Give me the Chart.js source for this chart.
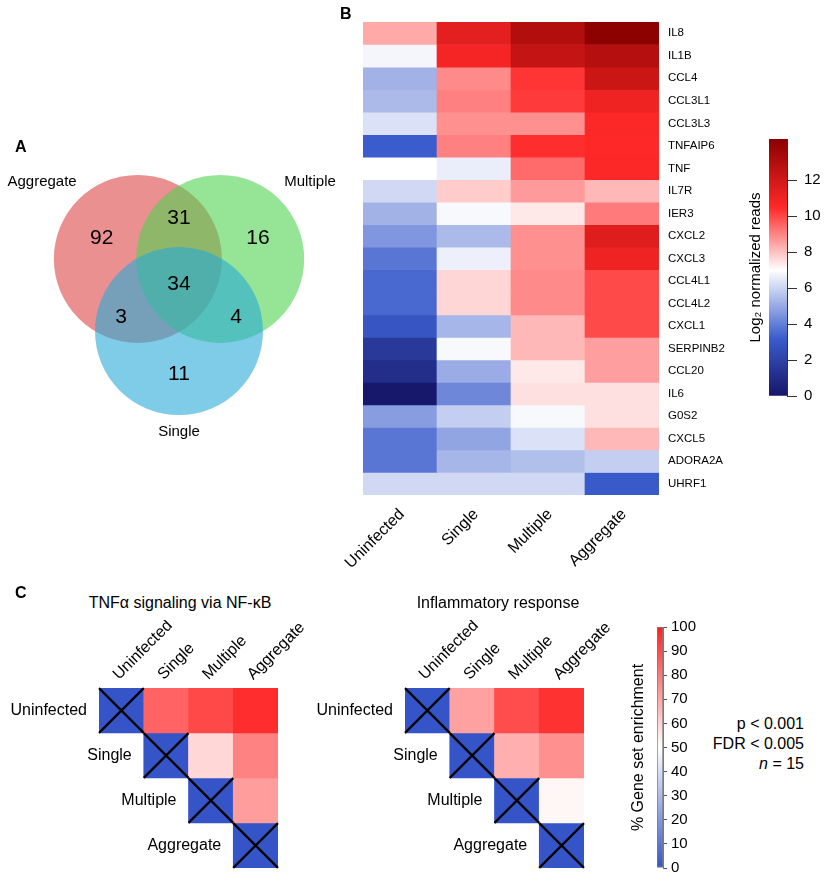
<!DOCTYPE html>
<html>
<head>
<meta charset="utf-8">
<title>Gene expression panels</title>
<style>
*{margin:0;padding:0;box-sizing:border-box}
body{width:829px;height:881px;background:#fff;position:relative;overflow:hidden;font-family:"Liberation Sans",Arial,sans-serif;color:#000}
canvas{position:absolute}
.t{position:absolute;white-space:nowrap;font-size:16px;line-height:20px}
.panel{font-weight:bold;font-size:16px}
</style>
</head>
<body>
<canvas id="venn" width="360" height="360" style="left:0;top:120px"></canvas>
<canvas id="heat" width="440" height="580" style="left:300px;top:0"></canvas>
<canvas id="heatBar" width="89" height="300" style="left:740px;top:120px"></canvas>
<canvas id="triTnf" width="330" height="260" style="left:0;top:620px"></canvas>
<canvas id="triInf" width="340" height="260" style="left:300px;top:620px"></canvas>
<canvas id="triBar" width="90" height="271" style="left:620px;top:610px"></canvas>

<div class="t panel" style="left:15px;top:137px">A</div>
<div class="t panel" style="left:340px;top:4px">B</div>
<div class="t panel" style="left:15px;top:583px">C</div>
<div class="t" style="left:180px;top:593px;transform:translateX(-50%)">TNFα signaling via NF-κB</div>
<div class="t" style="left:498px;top:593px;transform:translateX(-50%)">Inflammatory response</div>
<div class="t" style="right:25px;top:714px;text-align:right">p &lt; 0.001<br>FDR &lt; 0.005<br><i>n</i> = 15</div>

<script src="https://cdn.jsdelivr.net/npm/chart.js"></script>
<script>
// ---- data ----
const groups = ['Uninfected', 'Single', 'Multiple', 'Aggregate'];

// A: venn
const vennSets = ['Aggregate', 'Multiple', 'Single'];
const vennSetX = [-0.49, 0.49, 0];
const vennSetY = [0.43, 0.43, -0.43];
const vennCounts = [92, 31, 16, 34, 3, 4, 11];
const vennCountX = [-0.92, 0, 0.94, 0, -0.69, 0.68, 0];
const vennCountY = [0.68, 0.92, 0.68, 0.13, -0.27, -0.27, -0.94];
const vennLabelX = [-1.63, 1.56, 0];
const vennLabelY = [1.345, 1.345, -1.63];

// B: log2 normalized reads
const genes = ['IL8', 'IL1B', 'CCL4', 'CCL3L1', 'CCL3L3', 'TNFAIP6', 'TNF', 'IL7R', 'IER3', 'CXCL2', 'CXCL3',
  'CCL4L1', 'CCL4L2', 'CXCL1', 'SERPINB2', 'CCL20', 'IL6', 'G0S2', 'CXCL5', 'ADORA2A', 'UHRF1'];
const readsUninfected = [8.4, 6.8, 5.2, 5.4, 6.3, 3.2, 7.0, 6.1, 5.2, 4.55, 3.8, 3.5, 3.5, 2.9, 1.6, 1.1, 0.1, 4.7, 3.8, 3.8, 6.1];
const readsSingle = [11.4, 10.8, 8.9, 9.07, 8.8, 9.07, 6.6, 7.83, 6.85, 5.4, 6.65, 7.67, 7.67, 5.3, 6.85, 5.05, 4.2, 5.86, 4.9, 5.3, 6.1];
const readsMultiple = [13.0, 12.4, 10.3, 10.2, 8.8, 10.4, 9.43, 8.64, 7.37, 8.8, 8.8, 8.9, 8.9, 8.16, 8.16, 7.37, 7.5, 6.85, 6.3, 5.5, 6.1];
const readsAggregate = [14.2, 12.9, 12.2, 11.0, 10.6, 10.5, 10.6, 8.16, 9.17, 11.5, 11.0, 9.95, 9.95, 9.95, 8.58, 8.58, 7.5, 7.5, 8.16, 5.86, 3.1];
const readsMax = 14.3;
const readTicks = [0, 2, 4, 6, 8, 10, 12];

// C: % gene set enrichment (row vs column, upper triangle)
const tnfUninfected = [0, 85, 91, 97];
const tnfSingle = [null, 0, 59, 78];
const tnfMultiple = [null, null, 0, 72];
const tnfAggregate = [null, null, null, 0];
const infUninfected = [0, 71, 90, 96];
const infSingle = [null, 0, 68, 75];
const infMultiple = [null, null, 0, 52];
const infAggregate = [null, null, null, 0];

// ---- colour maps ----
const readStops = [[0, [22, 22, 104]], [3.2, [58, 92, 204]], [7, [255, 255, 255]], [10.5, [255, 40, 40]], [14.3, [139, 0, 0]]];
const pctStops = [[0, [52, 84, 200]], [50, [255, 255, 255]], [100, [255, 32, 32]]];

function cmap(stops, v) {
  for (let k = 1; k < stops.length; k++) {
    if (v <= stops[k][0] || k == stops.length - 1) {
      const [v0, c0] = stops[k - 1];
      const [v1, c1] = stops[k];
      const t = Math.max(0, Math.min(1, (v - v0) / (v1 - v0)));
      const c = c0.map((a, n) => Math.round(a + (c1[n] - a) * t));
      return `rgb(${c.join(',')})`;
    }
  }
}

function gradientFill(stops, lo, hi) {
  return (c) => {
    const chart = c.chart;
    if (!chart.chartArea) return 'rgba(0,0,0,0)';
    const y = chart.scales.y;
    const g = chart.ctx.createLinearGradient(0, y.getPixelForValue(lo), 0, y.getPixelForValue(hi));
    stops.forEach(([v, rgb]) => g.addColorStop((v - lo) / (hi - lo), `rgb(${rgb.join(',')})`));
    return g;
  };
}

const FONT = '"Liberation Sans", Arial, sans-serif';
Chart.defaults.font.family = FONT;
Chart.defaults.color = '#000';
Chart.defaults.animation = false;
Chart.defaults.events = [];
Chart.defaults.plugins.legend.display = false;
Chart.defaults.plugins.tooltip.enabled = false;

// ---- A: venn ----
const vennColors = ['rgba(220,70,70,0.6)', 'rgba(80,210,80,0.6)', 'rgba(40,170,215,0.6)'];
const unitPx = (c) => c.chart.scales.x.getPixelForValue(1) - c.chart.scales.x.getPixelForValue(0);

const vennText = {
  id: 'vennText',
  afterDatasetsDraw(chart) {
    const { ctx, scales: { x, y } } = chart;
    ctx.save();
    ctx.fillStyle = '#000';
    ctx.textAlign = 'center';
    ctx.textBaseline = 'middle';
    ctx.font = `21px ${FONT}`;
    vennCounts.forEach((n, k) => ctx.fillText(n, x.getPixelForValue(vennCountX[k]), y.getPixelForValue(vennCountY[k])));
    ctx.font = `15px ${FONT}`;
    vennSets.forEach((s, k) => ctx.fillText(s, x.getPixelForValue(vennLabelX[k]), y.getPixelForValue(vennLabelY[k])));
    ctx.restore();
  },
};

new Chart(document.getElementById('venn'), {
  type: 'scatter',
  // blue first so it is drawn last (on top)
  data: {
    datasets: [2, 1, 0].map(k => ({
      data: [{ x: vennSetX[k], y: vennSetY[k] }],
      backgroundColor: vennColors[k],
      borderWidth: 0,
      pointRadius: unitPx,
    })),
  },
  options: {
    responsive: false,
    layout: { padding: 0 },
    scales: {
      x: { display: false, min: -179 / 84, max: 181 / 84 },
      y: { display: false, min: -185 / 84, max: 175 / 84 },
    },
  },
  plugins: [vennText],
});

// ---- B: heatmap ----
const readCols = [readsUninfected, readsSingle, readsMultiple, readsAggregate];

new Chart(document.getElementById('heat'), {
  type: 'bar',
  data: {
    labels: groups,
    datasets: genes.map((g, i) => ({
      label: g,
      data: groups.map(() => [i, i + 1]),
      backgroundColor: readCols.map(col => cmap(readStops, col[i])),
      borderWidth: 0,
      grouped: false,
      barPercentage: 1,
      categoryPercentage: 1,
    })),
  },
  options: {
    responsive: false,
    layout: { padding: { left: 63, top: 22, right: 0, bottom: 0 } },
    scales: {
      x: {
        position: 'bottom',
        grid: { display: false, drawTicks: false },
        border: { display: false },
        ticks: { minRotation: 45, maxRotation: 45, autoSkip: false, padding: 10, labelOffset: 2, font: { size: 16 } },
        afterFit: (s) => { s.height = 85; },
      },
      y: {
        position: 'right',
        min: 0,
        max: genes.length,
        reverse: true,
        afterBuildTicks: (s) => { s.ticks = genes.map((g, i) => ({ value: i + 0.5 })); },
        grid: { display: false, drawTicks: false },
        border: { display: false },
        ticks: { autoSkip: false, padding: 9, font: { size: 11.5 }, callback: (v, i) => genes[i] },
        afterFit: (s) => { s.width = 81; },
      },
    },
  },
});

// ---- B: colour bar ----
new Chart(document.getElementById('heatBar'), {
  type: 'bar',
  data: {
    labels: ['reads'],
    datasets: [{
      data: [[0, readsMax]],
      backgroundColor: gradientFill(readStops, 0, readsMax),
      borderWidth: 0,
      barPercentage: 1,
      categoryPercentage: 1,
    }],
  },
  options: {
    responsive: false,
    layout: { padding: { top: 19, bottom: 24, left: 0, right: 0 } },
    scales: {
      x: { display: false },
      y: {
        position: 'right',
        min: 0,
        max: readsMax,
        afterBuildTicks: (s) => { s.ticks = readTicks.map(v => ({ value: v })); },
        grid: { drawOnChartArea: false, drawTicks: true, tickLength: 10, color: '#333' },
        border: { display: true, color: '#333' },
        ticks: { padding: 7, font: { size: 15 } },
        afterFit: (s) => { s.width = 42; },
      },
      yTitle: {
        type: 'linear',
        position: 'left',
        grid: { display: false, drawTicks: false },
        border: { display: false },
        ticks: { display: false },
        title: { display: true, text: 'Log₂ normalized reads', font: { size: 15 }, padding: { top: 7, bottom: 0 } },
        afterFit: (s) => { s.width = 29; },
      },
    },
  },
});

// ---- C: triangular heatmaps ----
const rowLabels = {
  id: 'rowLabels',
  afterDraw(chart) {
    const { ctx, scales: { x, y } } = chart;
    const half = (x.getPixelForValue(1) - x.getPixelForValue(0)) / 2;
    ctx.save();
    ctx.font = `16px ${FONT}`;
    ctx.fillStyle = '#000';
    ctx.textAlign = 'right';
    ctx.textBaseline = 'middle';
    groups.forEach((g, i) => ctx.fillText(g, x.getPixelForValue(i) - half - 12, y.getPixelForValue(i + 0.5)));
    ctx.restore();
  },
};

function triangle(id, rows, padLeft, padRight) {
  const cellHalfDiag = (c) => {
    const x = c.chart.scales.x;
    return (x.getPixelForValue(1) - x.getPixelForValue(0)) / 2 * Math.SQRT2;
  };
  new Chart(document.getElementById(id), {
    type: 'bar',
    data: {
      labels: groups,
      datasets: [{
        type: 'line',
        order: 0,
        data: groups.map((g, i) => ({ x: g, y: i + 0.5 })),
        showLine: false,
        pointStyle: 'crossRot',
        pointRadius: cellHalfDiag,
        pointBorderColor: '#000',
        pointBorderWidth: 2.2,
        pointBackgroundColor: 'rgba(0,0,0,0)',
        clip: false,
      }].concat(rows.map((row, i) => ({
        order: 1,
        data: row.map(v => (v === null ? null : [i, i + 1])),
        backgroundColor: row.map(v => (v === null ? 'rgba(0,0,0,0)' : cmap(pctStops, v))),
        borderWidth: 0,
        grouped: false,
        barPercentage: 1,
        categoryPercentage: 1,
      }))),
    },
    options: {
      responsive: false,
      layout: { padding: { left: padLeft, right: padRight, top: 0, bottom: 12 } },
      scales: {
        x: {
          position: 'top',
          grid: { display: false, drawTicks: false },
          border: { display: false },
          ticks: { minRotation: 45, maxRotation: 45, autoSkip: false, padding: 4, labelOffset: 8, font: { size: 16 } },
          afterFit: (s) => { s.height = 68; },
        },
        y: { display: false, min: 0, max: groups.length, reverse: true },
      },
    },
    plugins: [rowLabels],
  });
}

triangle('triTnf', [tnfUninfected, tnfSingle, tnfMultiple, tnfAggregate], 99, 52);
triangle('triInf', [infUninfected, infSingle, infMultiple, infAggregate], 105, 56);

// ---- C: colour bar ----
new Chart(document.getElementById('triBar'), {
  type: 'bar',
  data: {
    labels: ['pct'],
    datasets: [{
      data: [[0, 100]],
      backgroundColor: gradientFill(pctStops, 0, 100),
      borderColor: '#7a7a7a',
      borderWidth: 1,
      borderSkipped: false,
      barPercentage: 1,
      categoryPercentage: 1,
    }],
  },
  options: {
    responsive: false,
    layout: { padding: { top: 17, bottom: 11, left: 0, right: 0 } },
    scales: {
      x: { display: false },
      y: {
        position: 'right',
        min: 0,
        max: 100,
        ticks: { stepSize: 10, padding: 4, font: { size: 15 } },
        grid: { drawOnChartArea: false, drawTicks: true, tickLength: 4, color: '#555' },
        border: { display: true, color: '#7a7a7a' },
        afterFit: (s) => { s.width = 47; },
      },
      yTitle: {
        type: 'linear',
        position: 'left',
        grid: { display: false, drawTicks: false },
        border: { display: false },
        ticks: { display: false },
        title: { display: true, text: '% Gene set enrichment', font: { size: 16 }, padding: { top: 9, bottom: 0 } },
        afterFit: (s) => { s.width = 37; },
      },
    },
  },
});
</script>
</body>
</html>
